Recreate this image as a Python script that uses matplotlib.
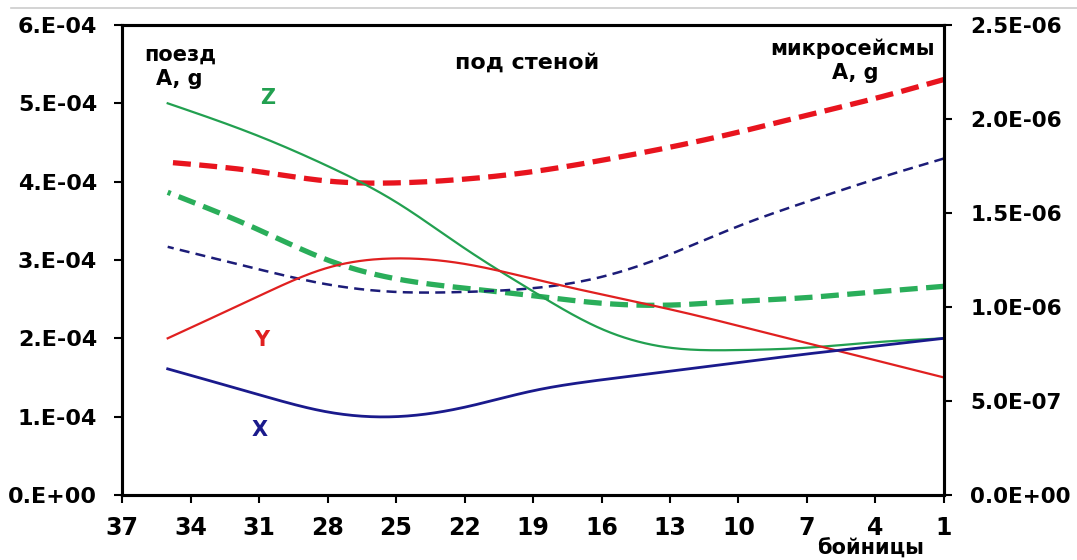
import matplotlib
matplotlib.use("Agg")
import matplotlib.pyplot as plt
from matplotlib.lines import Line2D
from matplotlib.ticker import FuncFormatter
import numpy as np

plt.rcParams['font.family'] = ['DejaVu Sans']
plt.rcParams['font.weight'] = 'bold'

# номера бойниц
bins = [35, 31, 28, 25, 22, 19, 16, 13, 10, 7, 4, 1]

# поезд, A, g (левая ось)
train_x = [1.61e-4, 1.28e-4, 1.06e-4, 1.00e-4, 1.12e-4, 1.33e-4, 1.47e-4, 1.58e-4, 1.69e-4, 1.80e-4, 1.90e-4, 2.00e-4]
train_y = [2.00e-4, 2.54e-4, 2.90e-4, 3.02e-4, 2.95e-4, 2.76e-4, 2.56e-4, 2.37e-4, 2.16e-4, 1.94e-4, 1.72e-4, 1.50e-4]
train_z = [5.00e-4, 4.58e-4, 4.20e-4, 3.74e-4, 3.15e-4, 2.60e-4, 2.12e-4, 1.88e-4, 1.85e-4, 1.88e-4, 1.95e-4, 2.00e-4]

# микросейсмы, A, g (правая ось)
micro_x = [1.32e-6, 1.20e-6, 1.12e-6, 1.08e-6, 1.08e-6, 1.10e-6, 1.16e-6, 1.28e-6, 1.43e-6, 1.56e-6, 1.68e-6, 1.79e-6]
micro_y = [1.77e-6, 1.72e-6, 1.67e-6, 1.66e-6, 1.68e-6, 1.72e-6, 1.78e-6, 1.85e-6, 1.93e-6, 2.02e-6, 2.11e-6, 2.21e-6]
micro_z = [1.61e-6, 1.41e-6, 1.25e-6, 1.15e-6, 1.10e-6, 1.06e-6, 1.02e-6, 1.01e-6, 1.03e-6, 1.05e-6, 1.08e-6, 1.11e-6]


def smooth(xs, ys, n=30):
    # натуральный кубический сплайн для сглаженной линии
    x = np.asarray(xs, float)[::-1]
    y = np.asarray(ys, float)[::-1]
    k = len(x)
    h = np.diff(x)
    A = np.zeros((k, k))
    b = np.zeros(k)
    A[0, 0] = A[-1, -1] = 1
    for i in range(1, k - 1):
        A[i, i - 1] = h[i - 1]
        A[i, i] = 2 * (h[i - 1] + h[i])
        A[i, i + 1] = h[i]
        b[i] = 6 * ((y[i + 1] - y[i]) / h[i] - (y[i] - y[i - 1]) / h[i - 1])
    m = np.linalg.solve(A, b)
    ox, oy = [], []
    for i in range(k - 1):
        t = np.linspace(x[i], x[i + 1], n, endpoint=False)
        a, c = x[i + 1] - t, t - x[i]
        s = (m[i] * a ** 3 + m[i + 1] * c ** 3) / (6 * h[i]) \
            + (y[i] / h[i] - m[i] * h[i] / 6) * a \
            + (y[i + 1] / h[i] - m[i + 1] * h[i] / 6) * c
        ox.extend(t)
        oy.extend(s)
    ox.append(x[-1])
    oy.append(y[-1])
    return ox, oy


fig = plt.figure(figsize=(10.77, 5.6), dpi=100)
ax = fig.add_axes([0.1133, 0.1161, 0.7632, 0.8393])
ax2 = ax.twinx()

ax2.plot(*smooth(bins, micro_y), color='#e8141e', lw=3.8, dashes=(3.4, 1.6))
ax2.plot(*smooth(bins, micro_z), color='#2aae5a', lw=3.8, dashes=(3.4, 1.6))
ax2.plot(*smooth(bins, micro_x), color='#1c1c78', lw=1.8, dashes=(4.0, 2.5))

ax.plot(*smooth(bins, train_z), color='#22a050', lw=1.6)
ax.plot(*smooth(bins, train_y), color='#e02020', lw=1.6)
ax.plot(*smooth(bins, train_x), color='#1a1a8c', lw=2.0)
ax.set_zorder(ax2.get_zorder() + 1)
ax.patch.set_visible(False)

ax.set_xlim(37, 1)
ax.set_xticks(range(37, 0, -3))
ax.set_ylim(0, 6e-4)
ax.set_yticks(np.arange(0, 6.01e-4, 1e-4))
ax2.set_ylim(0, 2.5e-6)
ax2.set_yticks(np.arange(0, 2.51e-6, 5e-7))

ax.yaxis.set_major_formatter(FuncFormatter(
    lambda v, p: '0.E+00' if v == 0 else f'{int(round(v / 1e-4))}.E-04'))
ax2.yaxis.set_major_formatter(FuncFormatter(lambda v, p: f'{v:.1E}'))

for a in (ax, ax2):
    for s in a.spines.values():
        s.set_linewidth(2.2)
    a.tick_params(labelsize=16, width=1.5, length=6, direction='out')
ax.tick_params(axis='y', pad=12)
ax.tick_params(axis='x', labelsize=17, pad=9)
ax2.tick_params(axis='y', labelsize=15.5, pad=13)

ax.text(34.46, 5.62e-4, 'поезд', fontsize=15, ha='center', va='center')
ax.text(34.5, 5.31e-4, 'A, g', fontsize=15, ha='center', va='center')
ax.text(19.26, 5.52e-4, 'под стеной', fontsize=16, ha='center', va='center')
ax.text(5.02, 5.70e-4, 'микросейсмы', fontsize=15, ha='center', va='center')
ax.text(4.9, 5.39e-4, 'A, g', fontsize=15, ha='center', va='center')
ax.text(30.6, 5.07e-4, 'Z', fontsize=15, color='#22a050', ha='center', va='center')
ax.text(30.87, 1.98e-4, 'Y', fontsize=15, color='#e02020', ha='center', va='center')
ax.text(30.96, 0.83e-4, 'X', fontsize=15, color='#1a1a8c', ha='center', va='center')
fig.text(0.808, 0.021, 'бойницы', fontsize=15, ha='center', va='center')

# тонкая серая линия сверху
fig.add_artist(Line2D([0.01, 1.0], [0.986, 0.986], color='#cccccc', lw=1.2))

fig.savefig('out.png', dpi=100)
